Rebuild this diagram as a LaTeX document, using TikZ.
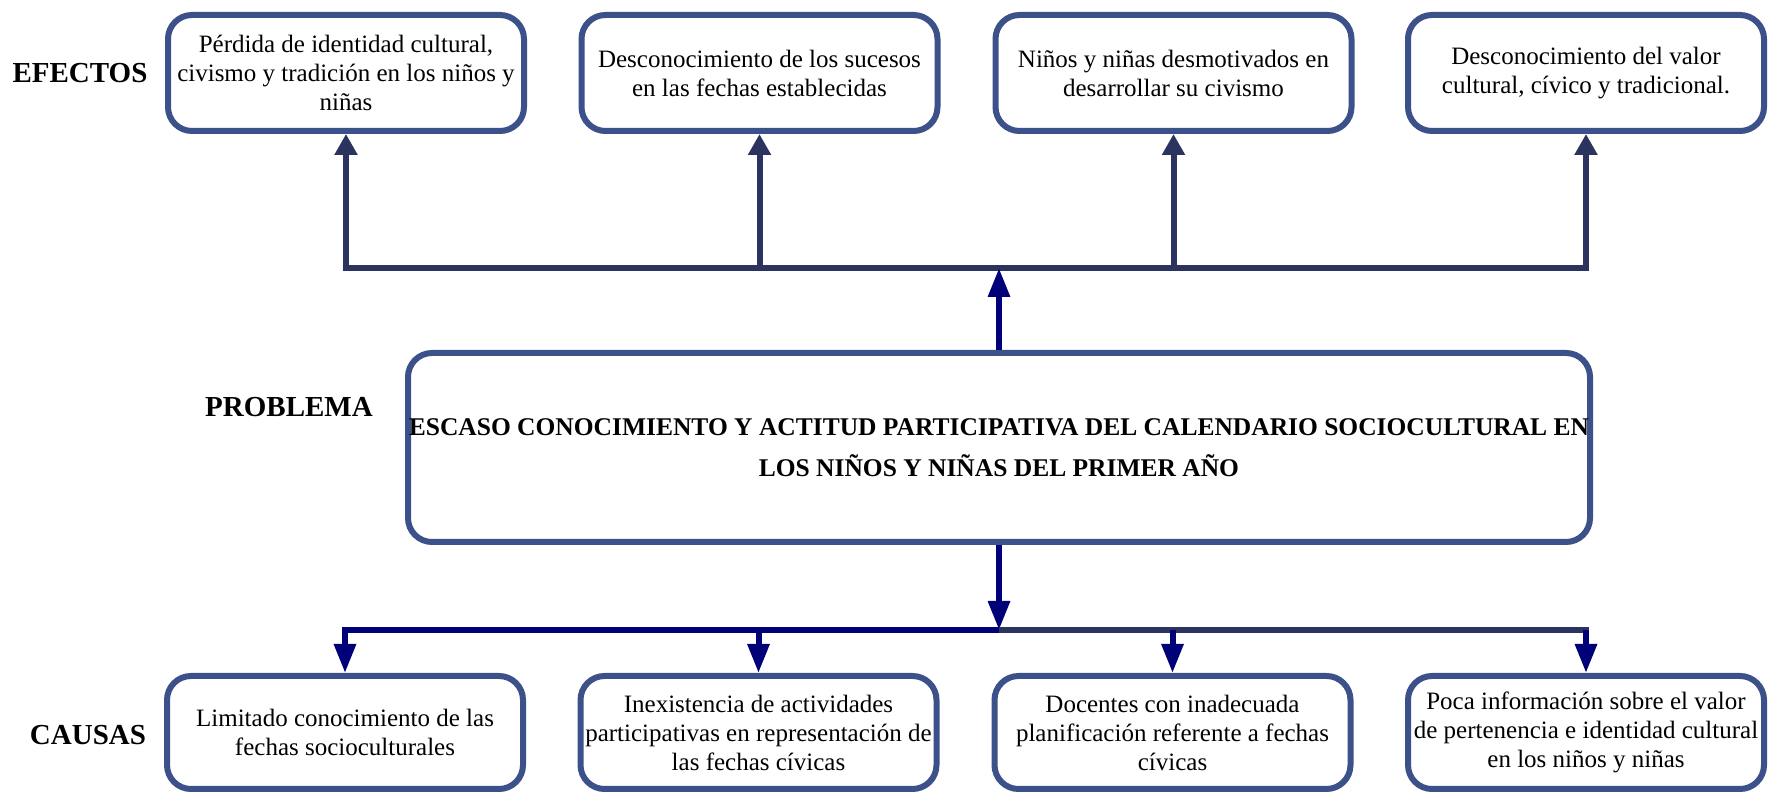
\documentclass[tikz,border=0pt]{standalone}
\usepackage{fontspec}
\setmainfont{Liberation Serif}
\usetikzlibrary{arrows.meta,shadows}
\definecolor{bordeazul}{RGB}{60,80,138}
\definecolor{lineaoscura}{RGB}{43,52,94}
\definecolor{lineanavy}{RGB}{0,0,120}
\begin{document}
\begin{tikzpicture}[x=0.5pt, y=-0.5pt,
  caja/.style={draw=bordeazul, line width=3pt, rounded corners=12pt, fill=white,
    minimum width=178pt, minimum height=58pt, inner xsep=0pt, align=center,
    font=\fontsize{12.5pt}{14.5pt}\selectfont,
    drop shadow={shadow xshift=1.2pt, shadow yshift=-1.2pt, opacity=0.2}},
  etiqueta/.style={font=\fontsize{14.5pt}{17pt}\selectfont\bfseries},
  efecto/.style={lineaoscura, line width=3pt},
  causa/.style={lineanavy, line width=3pt},
  puntaa/.tip={Triangle[width=11pt,length=10.5pt]},
  puntab/.tip={Triangle[width=10.5pt,length=14.5pt]}]
\useasboundingbox (0,0) rectangle (1768,795);
% efectos
\node[caja] (e1) at (346,73) {Pérdida de identidad cultural,\\civismo y tradición en los niños y\\niñas};
\node[caja] (e2) at (759.5,73) {Desconocimiento de los sucesos\\en las fechas establecidas};
\node[caja] (e3) at (1173.5,73) {Niños y niñas desmotivados en\\desarrollar su civismo};
\node[caja] (e4) at (1586,73) {Desconocimiento del valor\\cultural, cívico y tradicional.};
% problema
\node[caja, minimum width=591pt, minimum height=94.5pt,
  font=\fontsize{12.75pt}{20.5pt}\selectfont\bfseries] (prob) at (999,447.5)
  {ESCASO CONOCIMIENTO Y ACTITUD PARTICIPATIVA DEL CALENDARIO SOCIOCULTURAL EN\\LOS NIÑOS Y NIÑAS DEL PRIMER AÑO};
% causas
\node[caja, minimum height=56.5pt] (c1) at (345,732.5) {Limitado conocimiento de las\\fechas socioculturales};
\node[caja, minimum height=56.5pt] (c2) at (758.5,732.5) {Inexistencia de actividades\\participativas en representación de\\las fechas cívicas};
\node[caja, minimum height=56.5pt] (c3) at (1172.5,732.5) {Docentes con inadecuada\\planificación referente a fechas\\cívicas};
\node[caja, minimum height=56.5pt] (c4) at (1586,732.5) {Poca información sobre el valor\\de pertenencia e identidad cultural\\en los niños y niñas};
% etiquetas
\node[etiqueta] (lef) at (80,73) {EFECTOS};
\node[etiqueta] (lpr) at (289,407) {PROBLEMA};
\node[etiqueta] (lca) at (88,735) {CAUSAS};
\coordinate (arriba) at (999,268);
\coordinate (abajo) at (999,630);
% conectores
\draw[efecto, puntaa-puntaa] (e1.south) -- (e1.south |- arriba) -- (e4.south |- arriba) -- (e4.south);
\foreach \n in {e2,e3}
  \draw[efecto, -puntaa] (\n.south |- arriba) -- (\n.south);
\draw[causa, -puntab] (prob.north) -- (arriba);
\draw[causa, -puntab] (prob.south) -- (abajo);
\draw[efecto] (abajo) -- (c4.north |- abajo) -- ++(0,10);
\draw[causa, -puntab] (abajo) -- (c1.north |- abajo) -- (c1.north);
\foreach \n in {c2,c3,c4}
  \draw[causa, -puntab] (\n.north |- abajo) -- (\n.north);
\end{tikzpicture}
\end{document}
